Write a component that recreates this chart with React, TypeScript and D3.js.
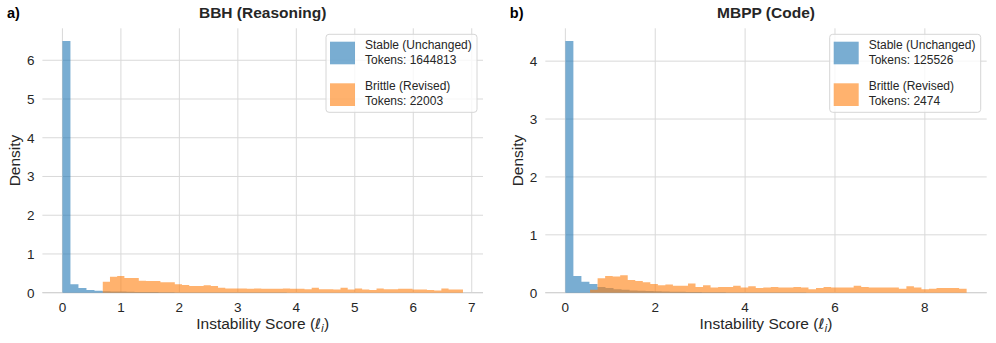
import React from "react";
import * as d3 from "d3";

// ---- Data (density per bin, 50 bins each) ----
const bbhStableRange = [0, 6.85];
const bbhStable = [
  6.5, 0.22, 0.12, 0.07, 0.05, 0.04, 0.03, 0.028, 0.025, 0.02,
  0.018, 0.015, 0.012, 0.01, 0.008, 0.007, 0.006, 0.005, 0.004, 0.004,
  0.003, 0.003, 0.003, 0.002, 0.002, 0.002, 0.002, 0.002, 0.001, 0.001,
  0.001, 0.001, 0.001, 0.001, 0.001, 0.001, 0.001, 0.001, 0.001, 0.001,
  0.001, 0.001, 0.001, 0.001, 0.001, 0.001, 0.001, 0.001, 0.001, 0.001,
];
const bbhBrittleRange = [0.69, 6.85];
const bbhBrittle = [
  0.28, 0.41, 0.43, 0.38, 0.38, 0.31, 0.3, 0.3, 0.27, 0.27,
  0.22, 0.2, 0.17, 0.17, 0.19, 0.17, 0.13, 0.11, 0.11, 0.11,
  0.1, 0.11, 0.1, 0.1, 0.1, 0.11, 0.1, 0.1, 0.09, 0.13,
  0.09, 0.09, 0.08, 0.13, 0.08, 0.11, 0.08, 0.07, 0.11, 0.09,
  0.09, 0.1, 0.1, 0.08, 0.08, 0.07, 0.06, 0.11, 0.08, 0.08,
];
const mbppStableRange = [0, 8.93];
const mbppStable = [
  4.35, 0.29, 0.19, 0.15, 0.1, 0.08, 0.06, 0.05, 0.04, 0.035,
  0.03, 0.025, 0.02, 0.018, 0.015, 0.012, 0.01, 0.008, 0.007, 0.006,
  0.005, 0.004, 0.004, 0.003, 0.003, 0.002, 0.002, 0.002, 0.002, 0.002,
  0.001, 0.001, 0.001, 0.001, 0.001, 0.001, 0.001, 0.001, 0.001, 0.001,
  0.001, 0.001, 0.001, 0.001, 0.001, 0.001, 0.001, 0.001, 0.001, 0.001,
];
const mbppBrittleRange = [0.55, 8.93];
const mbppBrittle = [
  0.05, 0.25, 0.29, 0.28, 0.3, 0.22, 0.2, 0.18, 0.15, 0.13,
  0.14, 0.12, 0.12, 0.16, 0.1, 0.13, 0.09, 0.1, 0.1, 0.12,
  0.09, 0.11, 0.08, 0.09, 0.1, 0.09, 0.09, 0.1, 0.09, 0.06,
  0.08, 0.1, 0.09, 0.09, 0.09, 0.12, 0.1, 0.09, 0.09, 0.09,
  0.09, 0.07, 0.11, 0.09, 0.06, 0.07, 0.08, 0.08, 0.08, 0.07,
];

const bbhXTicks = [0, 1, 2, 3, 4, 5, 6, 7];
const bbhYTicks = [0, 1, 2, 3, 4, 5, 6];
const mbppXTicks = [0, 2, 4, 6, 8];
const mbppYTicks = [0, 1, 2, 3, 4];

const legendStable = ["Stable (Unchanged)"];
const legendBrittle = ["Brittle (Revised)"];
const bbhTokens = [1644813, 22003];
const mbppTokens = [125526, 2474];

const BLUE = "#1f77b4";
const ORANGE = "#ff7f0e";
const FONT = "'Liberation Sans', Arial, sans-serif";
const TXT = "#262626";

type PanelProps = {
  left: number;
  right: number;
  letter: string;
  title: string;
  stable: number[];
  stableRange: number[];
  brittle: number[];
  brittleRange: number[];
  xTicks: number[];
  yTicks: number[];
  tokens: number[];
};

const TOP = 28.3;
const BOTTOM = 292.7;

function Panel(p: PanelProps) {
  const lo = Math.min(p.stableRange[0], p.brittleRange[0]);
  const hi = Math.max(p.stableRange[1], p.brittleRange[1]);
  const pad = 0.05 * (hi - lo);
  const x = d3.scaleLinear().domain([lo - pad, hi + pad]).range([p.left, p.right]);
  const ymax = 1.05 * Math.max(d3.max(p.stable)!, d3.max(p.brittle)!);
  const y = d3.scaleLinear().domain([0, ymax]).range([BOTTOM, TOP]);

  const mkPath = (vals: number[], range: number[]) => {
    const n = vals.length;
    const pts: [number, number][] = d3
      .range(n + 1)
      .map((i) => [range[0] + (i * (range[1] - range[0])) / n, vals[Math.min(i, n - 1)]]);
    return d3
      .area<[number, number]>()
      .x((d) => x(d[0]))
      .y0(y(0))
      .y1((d) => y(d[1]))
      .curve(d3.curveStepAfter)(pts)!;
  };

  const cx = (p.left + p.right) / 2;
  const lgR = p.right - 6;
  const lgL = lgR - 151;
  const lgT = TOP + 6;

  return (
    <g fontFamily={FONT}>
      {/* grid */}
      {p.yTicks.map((t) => (
        <line key={"gy" + t} x1={p.left} x2={p.right} y1={y(t)} y2={y(t)} stroke="#d9d9d9" strokeWidth={1} />
      ))}
      {p.xTicks.map((t) => (
        <line key={"gx" + t} x1={x(t)} x2={x(t)} y1={TOP} y2={BOTTOM} stroke="#d9d9d9" strokeWidth={1} />
      ))}
      <line x1={p.left} x2={p.right} y1={BOTTOM} y2={BOTTOM} stroke="#d0d0d0" strokeWidth={1} />
      {/* histograms */}
      <path d={mkPath(p.stable, p.stableRange)} fill={BLUE} fillOpacity={0.6} />
      <path d={mkPath(p.brittle, p.brittleRange)} fill={ORANGE} fillOpacity={0.6} />
      {/* tick labels */}
      {p.yTicks.map((t) => (
        <text key={"ty" + t} x={p.left - 8} y={y(t)} dy="0.36em" textAnchor="end" fontSize={13.5} fill={TXT}>
          {t}
        </text>
      ))}
      {p.xTicks.map((t) => (
        <text key={"tx" + t} x={x(t)} y={311.5} textAnchor="middle" fontSize={13.5} fill={TXT}>
          {t}
        </text>
      ))}
      {/* axis labels */}
      <text x={cx} y={329} textAnchor="middle" fontSize={15.5} fill={TXT}>
        Instability Score (
        <tspan fontFamily="'DejaVu Sans', sans-serif" fontStyle="italic" fontSize={14.5}>ℓ</tspan>
        <tspan fontFamily="'DejaVu Sans', sans-serif" fontStyle="italic" fontSize={10.5} dy={3}>i</tspan>
        <tspan dy={-3}>)</tspan>
      </text>
      <text
        transform={`translate(${p.left - 22.5},${(TOP + BOTTOM) / 2}) rotate(-90)`}
        textAnchor="middle"
        fontSize={15.5}
        fill={TXT}
      >
        Density
      </text>
      {/* title */}
      <text x={cx} y={18} textAnchor="middle" fontSize={15.5} fontWeight="bold" fill={TXT}>
        {p.title}
      </text>
      <text x={p.left - 35.5} y={18} fontSize={14.5} fontWeight="bold" fill="#000">
        {p.letter}
      </text>
      {/* legend */}
      <rect x={lgL} y={lgT} width={151} height={78} rx={3} fill="#fff" fillOpacity={0.8} stroke="#d6d6d6" strokeWidth={1} />
      <rect x={lgL + 4} y={lgT + 7.4} width={25} height={22.6} fill={BLUE} fillOpacity={0.6} />
      <rect x={lgL + 4} y={lgT + 49} width={25} height={22.7} fill={ORANGE} fillOpacity={0.6} />
      <text x={lgL + 39} y={lgT + 14.5} fontSize={12} fill={TXT}>{legendStable[0]}</text>
      <text x={lgL + 39} y={lgT + 29.5} fontSize={12} fill={TXT}>{`Tokens: ${p.tokens[0]}`}</text>
      <text x={lgL + 39} y={lgT + 56} fontSize={12} fill={TXT}>{legendBrittle[0]}</text>
      <text x={lgL + 39} y={lgT + 71} fontSize={12} fill={TXT}>{`Tokens: ${p.tokens[1]}`}</text>
    </g>
  );
}

export default function App() {
  return (
    <svg
      width={996}
      height={343}
      viewBox="0 0 996 343"
      style={{ position: "absolute", left: 0, top: 0, background: "#fff" }}
    >
      <rect width={996} height={343} fill="#fff" />
      <Panel
        left={42.4}
        right={483}
        letter="a)"
        title="BBH (Reasoning)"
        stable={bbhStable}
        stableRange={bbhStableRange}
        brittle={bbhBrittle}
        brittleRange={bbhBrittleRange}
        xTicks={bbhXTicks}
        yTicks={bbhYTicks}
        tokens={bbhTokens}
      />
      <Panel
        left={545.3}
        right={986.7}
        letter="b)"
        title="MBPP (Code)"
        stable={mbppStable}
        stableRange={mbppStableRange}
        brittle={mbppBrittle}
        brittleRange={mbppBrittleRange}
        xTicks={mbppXTicks}
        yTicks={mbppYTicks}
        tokens={mbppTokens}
      />
    </svg>
  );
}
